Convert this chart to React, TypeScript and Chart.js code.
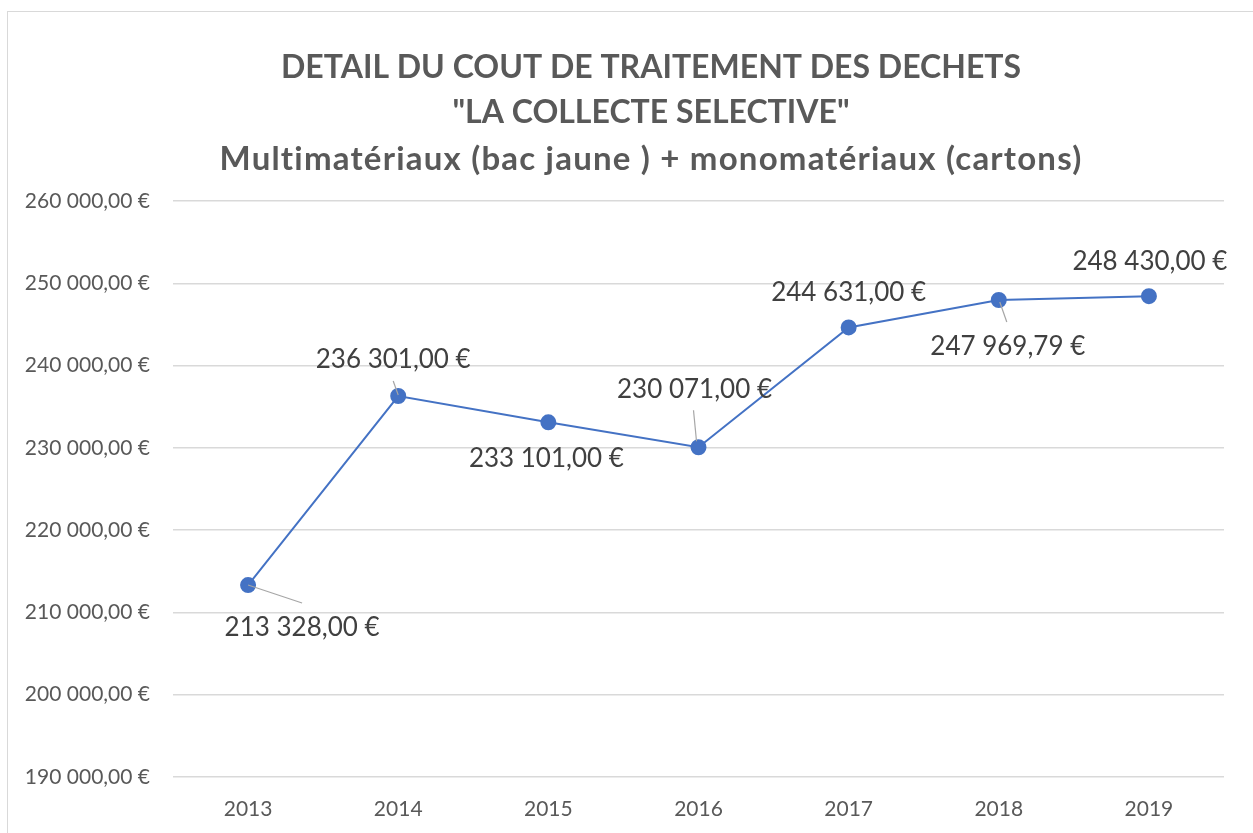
import React, { useEffect, useRef } from "react";
import { Chart, registerables } from "chart.js";

Chart.register(...registerables);

const years = ["2013", "2014", "2015", "2016", "2017", "2018", "2019"];
const costs = [213328.0, 236301.0, 233101.0, 230071.0, 244631.0, 247969.79, 248430.0];
const titleLines = [
  "DETAIL DU COUT DE TRAITEMENT DES DECHETS",
  '"LA COLLECTE SELECTIVE"',
  "Multimatériaux (bac jaune ) + monomatériaux (cartons)",
];
const yMin = 190000;
const yMax = 260000;
const yStep = 10000;

function fmtEuro(v: number): string {
  const [i, d] = v.toFixed(2).split(".");
  return i.replace(/\B(?=(\d{3})+(?!\d))/g, " ") + "," + d + " €";
}

// title line styling (style only)
const titleStyle = [
  { size: 32, y: 56, spacing: 0 },
  { size: 32, y: 101, spacing: 0 },
  { size: 33, y: 147, spacing: 1.2 },
];

// label placement (style only): offset of label centre from point, optional leader segment
const labelStyle = [
  { dx: 54, dy: 43, lead: [0, 0, 54, 18] },
  { dx: -5, dy: -36, lead: [-5, -15, 0, -1] },
  { dx: -2, dy: 36, lead: null },
  { dx: -4, dy: -58, lead: [-5, -37, -2, -6] },
  { dx: 0, dy: -35, lead: null },
  { dx: 9, dy: 47, lead: [1, 2, 8, 22] },
  { dx: 1, dy: -35, lead: null },
];

const titlePlugin = {
  id: "excelTitle",
  afterDraw(chart: any) {
    const ctx = chart.ctx;
    ctx.save();
    ctx.fillStyle = "#595959";
    ctx.textAlign = "center";
    ctx.textBaseline = "middle";
    titleLines.forEach((t, i) => {
      const s = titleStyle[i];
      ctx.font = `bold ${s.size}px Lato`;
      (ctx as any).letterSpacing = `${s.spacing}px`;
      ctx.fillText(t, 643, s.y);
    });
    ctx.restore();
  },
};

const dataLabelPlugin = {
  id: "excelLabels",
  afterDatasetsDraw(chart: any) {
    const ctx = chart.ctx;
    const meta = chart.getDatasetMeta(0);
    const ds = chart.data.datasets[0];
    ctx.save();
    meta.data.forEach((pt: any, i: number) => {
      const s = labelStyle[i];
      if (s.lead) {
        ctx.beginPath();
        ctx.strokeStyle = "#a6a6a6";
        ctx.lineWidth = 1.2;
        ctx.moveTo(pt.x + s.lead[0], pt.y + s.lead[1]);
        ctx.lineTo(pt.x + s.lead[2], pt.y + s.lead[3]);
        ctx.stroke();
      }
    });
    ctx.font = "26px Lato";
    ctx.fillStyle = "#404040";
    ctx.textAlign = "center";
    ctx.textBaseline = "middle";
    meta.data.forEach((pt: any, i: number) => {
      const s = labelStyle[i];
      ctx.fillText(fmtEuro(ds.data[i]), pt.x + s.dx, pt.y + s.dy);
    });
    ctx.restore();
  },
};

export default function App() {
  const ref = useRef<HTMLCanvasElement | null>(null);
  useEffect(() => {
    document.body.style.overflow = "hidden";
    if (!ref.current) return;
    const chart = new Chart(ref.current, {
      type: "line",
      data: {
        labels: years,
        datasets: [
          {
            data: costs,
            borderColor: "#4472C4",
            backgroundColor: "#4472C4",
            borderWidth: 2,
            pointRadius: 7,
            pointHoverRadius: 7,
            pointBackgroundColor: "#4472C4",
            pointBorderColor: "#4472C4",
            tension: 0,
          },
        ],
      },
      options: {
        animation: false,
        responsive: false,
        events: [],
        layout: { padding: { left: 0, right: 30, top: 189, bottom: 0 } },
        plugins: {
          legend: { display: false },
          tooltip: { enabled: false },
          title: { display: false },
        },
        scales: {
          x: {
            offset: true,
            grid: { display: false, drawTicks: false },
            border: { display: false },
            ticks: { color: "#595959", font: { family: "Lato", size: 21 }, padding: 20 },
            afterFit(s: any) {
              s.height = 57;
            },
          },
          y: {
            min: yMin,
            max: yMax,
            grid: { color: "#d9d9d9", lineWidth: 1.5, drawTicks: false },
            border: { display: false },
            ticks: {
              stepSize: yStep,
              color: "#595959",
              font: { family: "Lato", size: 21 },
              padding: 23,
              callback: (v: any) => fmtEuro(Number(v)),
            },
            afterFit(s: any) {
              s.width = 165;
            },
          },
        },
      },
      plugins: [dataLabelPlugin, titlePlugin],
    });
    return () => chart.destroy();
  }, []);

  return (
    <div
      style={{
        position: "absolute",
        left: 7,
        top: 11,
        width: 1246,
        height: 822,
        borderTop: "1px solid #d9d9d9",
        borderLeft: "1px solid #d9d9d9",
        background: "#fff",
      }}
    >
      <canvas ref={ref} width={1246} height={822} style={{ display: "block" }} />
    </div>
  );
}
